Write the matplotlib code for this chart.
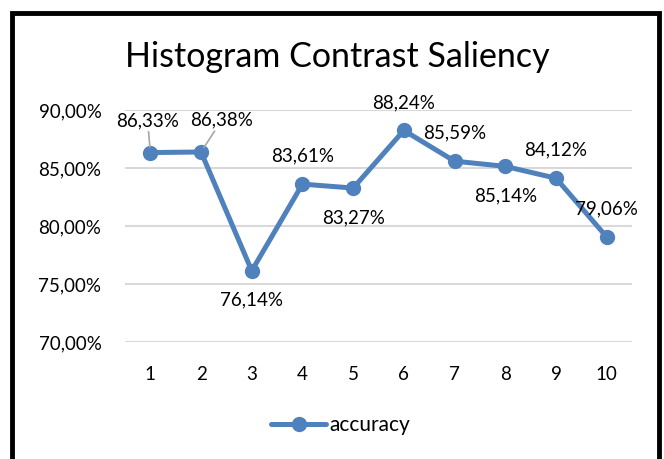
import matplotlib.pyplot as plt
from matplotlib.patches import Rectangle

# data
runs = [1, 2, 3, 4, 5, 6, 7, 8, 9, 10]
accuracy = [86.33, 86.38, 76.14, 83.61, 83.27, 88.24, 85.59, 85.14, 84.12, 79.06]
label_pos = ['left', 'right', 'below', 'above', 'below', 'above', 'above', 'below', 'above', 'above']

plt.rcParams['font.family'] = ['Lato', 'DejaVu Sans']

fig = plt.figure(figsize=(6.64, 4.59), dpi=100)
ax = fig.add_axes([125 / 664, 1 - 342 / 459, (632 - 125) / 664, (342 - 110) / 459])

blue = '#4F81BD'
line, = ax.plot(runs, accuracy, color=blue, lw=3.6, marker='o', ms=10,
                solid_capstyle='round', label='accuracy', zorder=3)

ax.set_xlim(0.5, 10.5)
ax.set_ylim(70, 90)
ax.set_yticks([70, 75, 80, 85, 90])
ax.set_yticklabels(['70,00%', '75,00%', '80,00%', '85,00%', '90,00%'], fontsize=13.5)
ax.set_xticks(runs)
ax.set_xticklabels([str(r) for r in runs], fontsize=13.5)
ax.tick_params(axis='y', length=0, pad=17)
ax.tick_params(axis='x', length=0, pad=17)
ax.grid(axis='y', color='#D9D9D9', lw=1.5)
ax.set_axisbelow(True)
for s in ax.spines.values():
    s.set_visible(False)

# data labels
for x, y, p in zip(runs, accuracy, label_pos):
    txt = f'{y:.2f}%'.replace('.', ',')
    if p == 'above':
        ax.annotate(txt, (x, y), xytext=(0, 14), textcoords='offset points',
                    ha='center', va='bottom', fontsize=13.5)
    elif p == 'below':
        ax.annotate(txt, (x, y), xytext=(0, -15), textcoords='offset points',
                    ha='center', va='top', fontsize=13.5)
    elif p == 'left':
        ax.annotate(txt, (x, y), xytext=(-2, 17), textcoords='offset points',
                    ha='center', va='bottom', fontsize=13.5,
                    arrowprops=dict(arrowstyle='-', color='#A6A6A6', lw=1.2,
                                    shrinkA=0, shrinkB=4))
    else:
        ax.annotate(txt, (x, y), xytext=(15, 17), textcoords='offset points',
                    ha='center', va='bottom', fontsize=13.5,
                    arrowprops=dict(arrowstyle='-', color='#A6A6A6', lw=1.2,
                                    shrinkA=0, shrinkB=4))

fig.suptitle('Histogram Contrast Saliency', fontsize=24.5, x=337 / 664, y=1 - 57 / 459,
             va='center')

fig.legend(handles=[line], loc='center', bbox_to_anchor=(341 / 664, 1 - 425 / 459),
           frameon=False, fontsize=15, handlelength=2.6, handletextpad=0.2)

# outer black frame
fig.patches.append(Rectangle((12 / 664, -0.05), (659 - 12) / 664, 1.05 - 13 / 459,
                             transform=fig.transFigure, fill=False,
                             edgecolor='black', lw=3.5))

fig.savefig('out.png', dpi=100)
